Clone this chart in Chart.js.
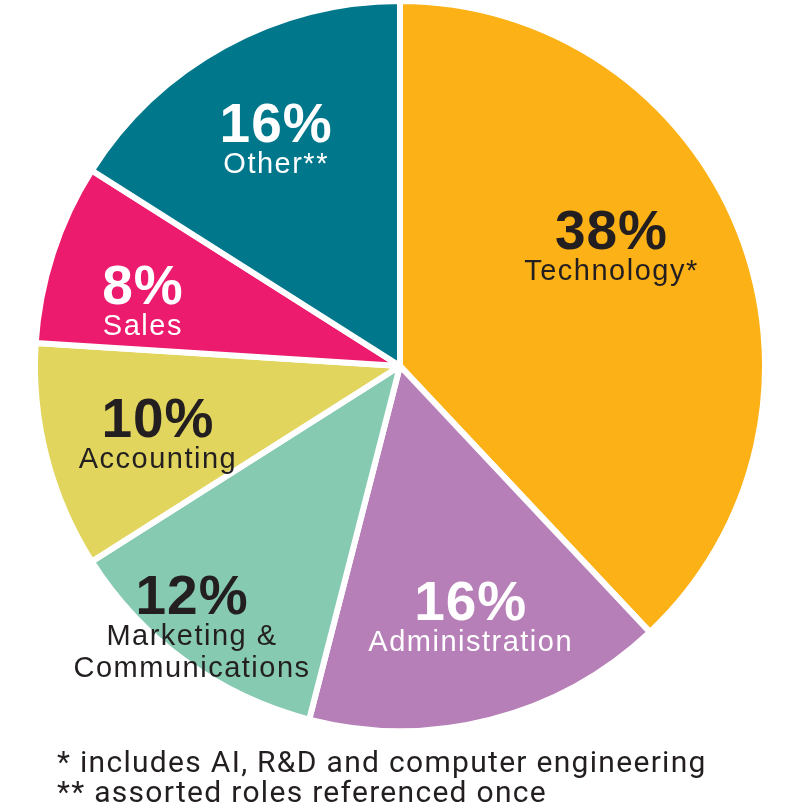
<!DOCTYPE html>
<html>
<head>
<meta charset="utf-8">
<script src="https://cdn.jsdelivr.net/npm/chart.js@4.4.1/dist/chart.umd.min.js"></script>
<style>
  html, body { margin: 0; padding: 0; background: #fff; }
  #wrap { position: relative; width: 800px; height: 809px; }
  .note { position: absolute; left: 57px; font-family: Roboto, sans-serif; font-size: 30px; letter-spacing: 1.3px; color: #231f20; white-space: nowrap; line-height: 1; }
</style>
</head>
<body>
<div id="wrap">
  <canvas id="pie" width="800" height="809"></canvas>
  <div class="note" id="n1" style="top:747px">* includes AI, R&amp;D and computer engineering</div>
  <div class="note" id="n2" style="top:777px">** assorted roles referenced once</div>
</div>
<script>
// Données du graphique
const categories = ["Technology*", "Administration", "Marketing &\nCommunications", "Accounting", "Sales", "Other**"];
const shares = [38, 16, 12, 10, 8, 16];
const colours = ["#fcb116", "#b77fb8", "#86cab2", "#e1d55d", "#ec1b6d", "#00778b"];
const textColours = ["#231f20", "#ffffff", "#231f20", "#231f20", "#ffffff", "#ffffff"];

// placement des étiquettes : fraction du rayon, décalage d'angle (degrés)
const placement = [
  [0.69, -11.3], [0.67, -2.4], [0.845, 6.4], [0.678, 2.4], [0.739, -0.4], [0.75, 1.9]
];

const sliceLabels = {
  id: "sliceLabels",
  afterDatasetsDraw(chart) {
    const ctx = chart.ctx;
    const arcs = chart.getDatasetMeta(0).data;
    ctx.save();
    ctx.textAlign = "center";
    ctx.textBaseline = "alphabetic";
    arcs.forEach((arc, i) => {
      const [frac, off] = placement[i];
      const mid = (arc.startAngle + arc.endAngle) / 2 + off * Math.PI / 180;
      const r = arc.outerRadius * frac;
      const x = arc.x + Math.cos(mid) * r;
      const y = arc.y + Math.sin(mid) * r;
      ctx.fillStyle = textColours[i];
      ctx.font = "bold 55px 'Liberation Sans', Arial, sans-serif";
      ctx.letterSpacing = "1px";
      ctx.fillText(shares[i] + "%", x, y + 20);
      ctx.font = "29px 'Liberation Sans', Arial, sans-serif";
      ctx.letterSpacing = "1.5px";
      categories[i].split("\n").forEach((line, k) => {
        ctx.fillText(line, x, y + 51 + k * 32);
      });
    });
    ctx.restore();
  }
};

new Chart(document.getElementById("pie").getContext("2d"), {
  type: "pie",
  data: {
    labels: categories,
    datasets: [{
      data: shares,
      backgroundColor: colours,
      borderColor: "#ffffff",
      borderWidth: 6,
      radius: 365
    }]
  },
  options: {
    responsive: false,
    animation: false,
    layout: { padding: { bottom: 77 } },
    plugins: { legend: { display: false }, tooltip: { enabled: false } }
  },
  plugins: [sliceLabels]
});
</script>
</body>
</html>
